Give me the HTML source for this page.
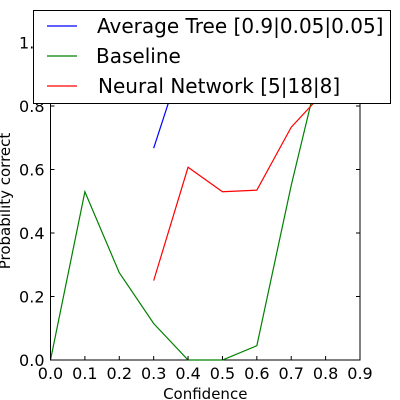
<!DOCTYPE html>
<html><head><meta charset="utf-8"><style>
body{margin:0;background:#fff;}
svg{display:block;font-family:"DejaVu Sans","Liberation Sans",sans-serif;}
</style></head><body>
<svg id="chart" width="400" height="400" viewBox="0 0 400 400"></svg>
<script>
const xTicks=[0,0.1,0.2,0.3,0.4,0.5,0.6,0.7,0.8,0.9];
const yTicks=[0,0.2,0.4,0.6,0.8,1.0];
const treeX=[0.3,0.4,0.5];
const treeY=[0.667,1.0,1.0];
const baseX=[0,0.1,0.2,0.3,0.4,0.5,0.6,0.7,0.8];
const baseY=[0,0.53,0.275,0.115,0,0,0.045,0.55,1.0];
const nnX=[0.3,0.4,0.5,0.6,0.7,0.8];
const nnY=[0.25,0.607,0.53,0.535,0.733,0.85];
const L=50.5,R=360,T=42.5,B=360;
const sx=v=>L+v/0.9*(R-L);
const sy=v=>B-v*(B-T);
const svg=document.getElementById('chart');
const NS='http://www.w3.org/2000/svg';
function el(t,a,p){const e=document.createElementNS(NS,t);for(const k in a)e.setAttribute(k,a[k]);(p||svg).appendChild(e);return e;}
const clip=el('clipPath',{id:'c'});el('rect',{x:L-2,y:T,width:R-L+4,height:B-T+2},clip);
function series(xs,ys,color,name){
  const pts=xs.map((x,i)=>sx(x)+','+sy(ys[i])).join(' ');
  const p=el('polyline',{points:pts,fill:'none',stroke:color,'stroke-width':1.2,'clip-path':'url(#c)'});
  
  
}
const frame=el('rect',{x:L,y:T,width:R-L,height:B-T,fill:'none',stroke:'#000','stroke-width':1});


series(treeX,treeY,'#0000ff','average-tree-line');
series(baseX,baseY,'#008000','baseline-line');
series(nnX,nnY,'#ff0000','neural-network-line');
xTicks.forEach(v=>{
  const x=sx(v);
  el('line',{x1:x,x2:x,y1:B,y2:B-4,stroke:'#000'});
  el('line',{x1:x,x2:x,y1:T,y2:T+4,stroke:'#000'});
  const t=el('text',{x:x,y:B+19,'text-anchor':'middle','font-size':16});
  t.textContent=v.toFixed(1);
  
  
});
yTicks.forEach(v=>{
  const y=sy(v);
  el('line',{x1:L,x2:L+4,y1:y,y2:y,stroke:'#000'});
  el('line',{x1:R,x2:R-4,y1:y,y2:y,stroke:'#000'});
  const t=el('text',{x:L-6,y:y+6,'text-anchor':'end','font-size':16});
  t.textContent=v.toFixed(1);
  
  
});
const xl=el('text',{x:(L+R)/2,y:399,'text-anchor':'middle','font-size':15});
xl.textContent='Confidence';


const yl=el('text',{x:0,y:0,'text-anchor':'middle','font-size':15,transform:'translate(10,201) rotate(-90)'});
yl.textContent='Probability correct';


const lg=el('g',{});


el('rect',{x:33.5,y:10.5,width:357,height:93,fill:'#fff',stroke:'#000','stroke-width':1},lg);
const entries=[['Average Tree [0.9|0.05|0.05]','#0000ff',26,97],['Baseline','#008000',56,96],['Neural Network [5|18|8]','#ff0000',86,98]];
entries.forEach(([txt,c,y,tx])=>{
  el('line',{x1:47,x2:77,y1:y,y2:y,stroke:c,'stroke-width':1.2},lg);
  const t=el('text',{x:tx,y:y+7,'font-size':20},lg);
  t.textContent=txt;
  
  
});
</script>
</body></html>
